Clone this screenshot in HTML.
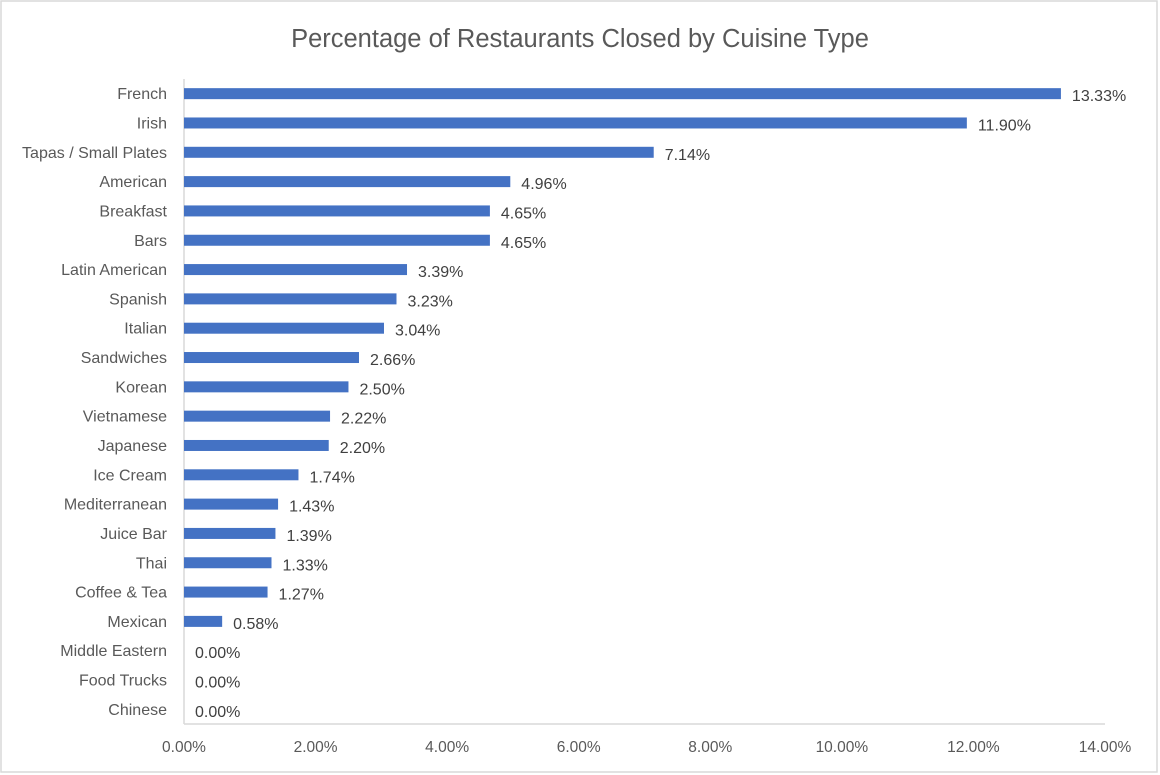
<!DOCTYPE html>
<html><head><meta charset="utf-8"><style>
body{margin:0;background:#fff;}
svg{display:block;font-family:"Liberation Sans",sans-serif;}
</style></head><body>
<svg id="chart" width="1160" height="775">
<rect x="1" y="1" width="1156" height="771" fill="#fff" stroke="#d9d9d9" stroke-width="1.5"/>
<text x="580" y="47" text-anchor="middle" font-size="25.5" fill="#595959">Percentage of Restaurants Closed by Cuisine Type</text>
<g id="plot"></g>
</svg>
<script>
const categories=["French","Irish","Tapas / Small Plates","American","Breakfast","Bars","Latin American","Spanish","Italian","Sandwiches","Korean","Vietnamese","Japanese","Ice Cream","Mediterranean","Juice Bar","Thai","Coffee & Tea","Mexican","Middle Eastern","Food Trucks","Chinese"];
const values=[13.33,11.90,7.14,4.96,4.65,4.65,3.39,3.23,3.04,2.66,2.50,2.22,2.20,1.74,1.43,1.39,1.33,1.27,0.58,0,0,0];
const ticks=[0,2,4,6,8,10,12,14];
const NS="http://www.w3.org/2000/svg";
const g=document.getElementById('plot');
const x0=184,x1=1105,yTop=79,yBot=724,xMax=14;
const x=v=>x0+v/xMax*(x1-x0);
const step=(yBot-yTop)/categories.length;
const y=i=>yTop+step*(i+0.5);
function mk(t,a){const e=document.createElementNS(NS,t);for(const k in a)e.setAttribute(k,a[k]);g.appendChild(e);return e;}
let ax=mk('line',{x1:x0,y1:yTop,x2:x0,y2:yBot,stroke:'#d9d9d9','stroke-width':1.5});


let bx=mk('line',{x1:x0,y1:yBot,x2:x1,y2:yBot,stroke:'#d9d9d9','stroke-width':1.5});


ticks.forEach(t=>{
 const e=mk('text',{x:x(t),y:752,'text-anchor':'middle','font-size':15.5,fill:'#595959'});
 e.textContent=t.toFixed(2)+'%';
 
 
});
categories.forEach((c,i)=>{
 const cy=y(i);
 const l=mk('text',{x:167,y:cy+5.5,'text-anchor':'end','font-size':16,fill:'#595959'});
 l.textContent=c;
 
 
 if(values[i]>0){
  const r=mk('rect',{x:x0,y:cy-5.5,width:x(values[i])-x0,height:11,fill:'#4472c4'});
  
  
 }
 const v=mk('text',{x:x(values[i])+11,y:cy+7.5,'font-size':16,fill:'#404040'});
 v.textContent=values[i].toFixed(2)+'%';
 
 
});
</script>
</body></html>
